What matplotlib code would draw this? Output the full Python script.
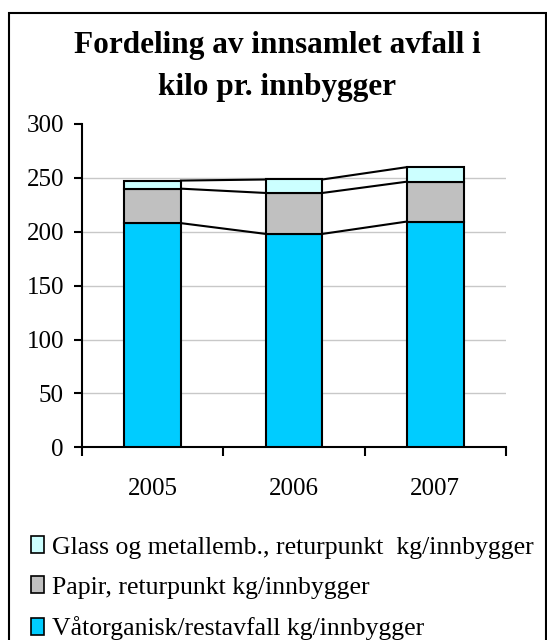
import matplotlib.pyplot as plt
from matplotlib.patches import Rectangle, Patch

plt.rcParams['font.family'] = ['Liberation Serif', 'DejaVu Serif']

# Data
years = ['2005', '2006', '2007']
vatorganisk = [208, 198, 209.5]
papir = [32, 38, 37]
glass = [7.5, 12.5, 13.5]

labels = ['Våtorganisk/restavfall kg/innbygger',
          'Papir, returpunkt kg/innbygger',
          'Glass og metallemb., returpunkt  kg/innbygger']
colors = ['#00CCFF', '#C0C0C0', '#CCFFFF']

W, H = 547, 640
fig = plt.figure(figsize=(W / 100, H / 100), dpi=100)

# outer chart border
fig.patches.append(Rectangle((9 / W, -0.01), (545.5 - 9) / W, 1 - 13 / H + 0.01,
                             transform=fig.transFigure, fill=False,
                             edgecolor='black', linewidth=1.5))

# title
fig.text(277 / W, 1 - 53 / H, 'Fordeling av innsamlet avfall i',
         ha='center', va='baseline', fontsize=22.5, fontweight='bold')
fig.text(277 / W, 1 - 95 / H, 'kilo pr. innbygger',
         ha='center', va='baseline', fontsize=22.5, fontweight='bold')

ax = fig.add_axes([82 / W, 1 - 447.3 / H, (506 - 82) / W, (447.3 - 124) / H])

x = range(len(years))
width = 0.4
series = [vatorganisk, papir, glass]
bottoms = [0] * len(years)
for vals, col in zip(series, colors):
    ax.bar(x, vals, width, bottom=bottoms, color=col, edgecolor='black',
           linewidth=1.5, zorder=3)
    bottoms = [b + v for b, v in zip(bottoms, vals)]
    # series lines between bars
    for i in range(len(years) - 1):
        ax.plot([i + width / 2, i + 1 - width / 2], [bottoms[i], bottoms[i + 1]],
                color='black', linewidth=1.5, zorder=2)

ax.set_xlim(-0.5, 2.5)
ax.set_ylim(0, 300)
ax.set_yticks(range(0, 301, 50))
for g in range(50, 300, 50):
    ax.axhline(g, color='#C8C8C8', linewidth=1, zorder=1)

ax.set_xticks([-0.5, 0.5, 1.5, 2.5])
ax.set_xticklabels([])
ax.set_xticks(list(x), minor=True)
ax.set_xticklabels(years, minor=True)
ax.tick_params(axis='x', which='major', direction='out', length=6.5, width=1.5)
ax.tick_params(axis='x', which='minor', length=0, pad=22, labelsize=18)
ax.tick_params(axis='y', direction='out', length=6, width=1.5, pad=7, labelsize=18)

for s in ['top', 'right']:
    ax.spines[s].set_visible(False)
for s in ['left', 'bottom']:
    ax.spines[s].set_linewidth(1.5)

handles = [Patch(facecolor=c, edgecolor='black', linewidth=1.2) for c in colors]
fig.legend(handles[::-1], labels[::-1], loc='upper left',
           bbox_to_anchor=(31 / W, 1 - 536 / H), frameon=False, fontsize=18.5,
           handlelength=0.5, handleheight=0.65, handletextpad=0.3,
           labelspacing=0.68, borderpad=0, borderaxespad=0)

fig.savefig('out.png', dpi=100)
